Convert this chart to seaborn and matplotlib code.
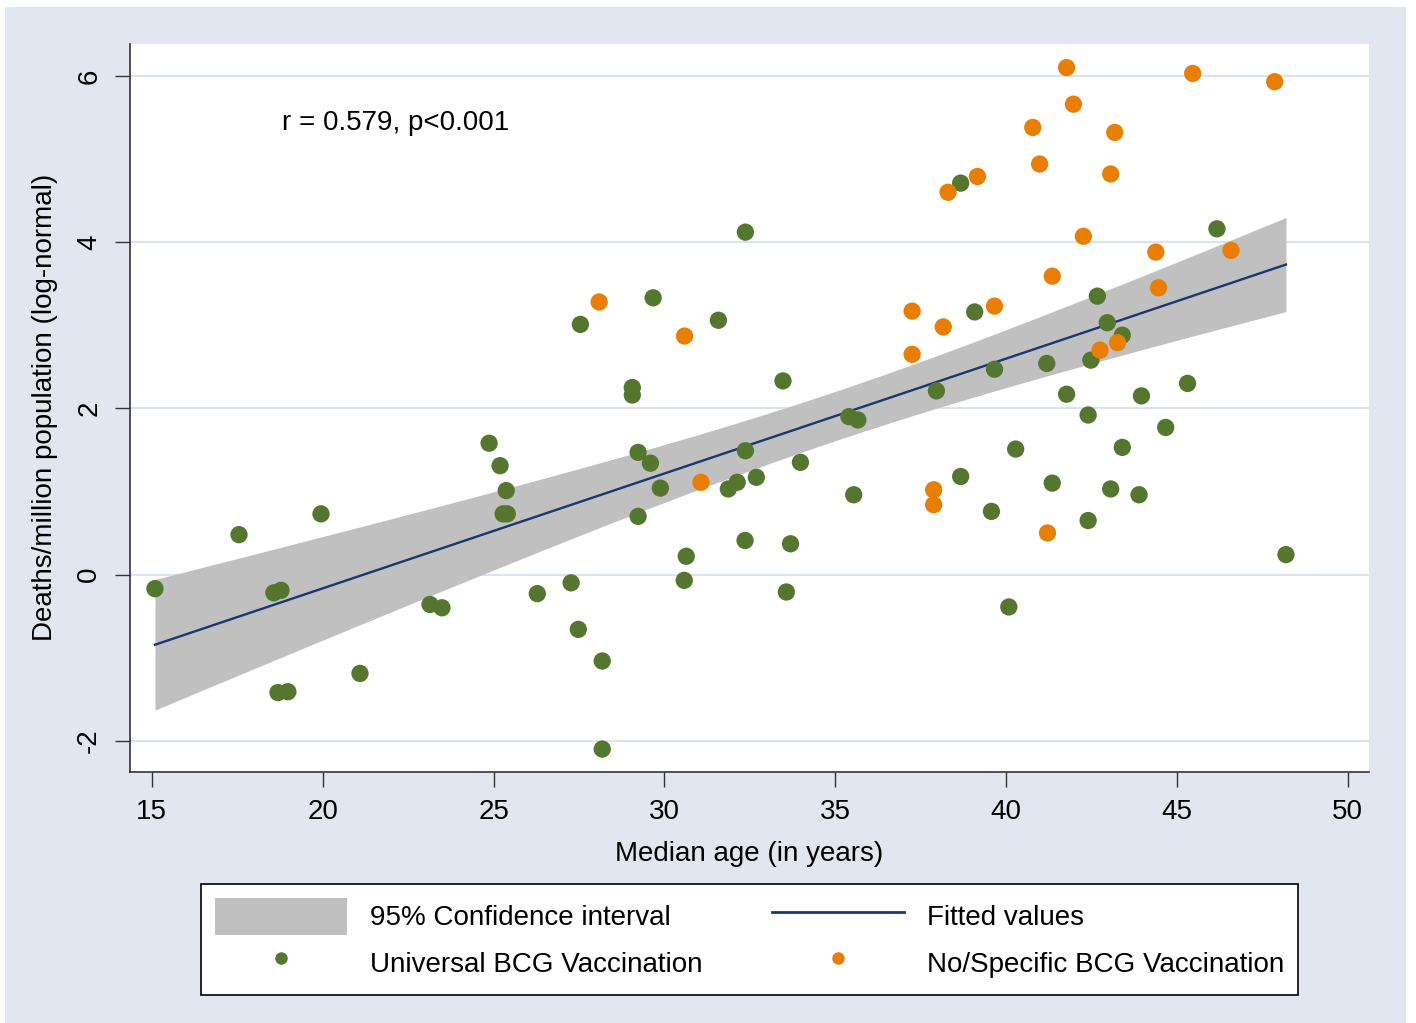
import numpy as np
import pandas as pd
import matplotlib
matplotlib.use('Agg')
import matplotlib.pyplot as plt
import seaborn as sns
from matplotlib.patches import Patch, Rectangle
from matplotlib.lines import Line2D

# Universal BCG vaccination countries (median age, log deaths/million)
univ_age = [15.09, 17.55, 18.57, 18.78, 18.69, 18.98, 19.95, 21.09, 23.14, 23.49,
            24.87, 25.19, 25.37, 25.28, 25.40, 26.28, 27.27, 27.48, 27.54, 28.18,
            28.18, 29.06, 29.06, 29.23, 29.59, 29.23, 29.67, 29.88, 30.64, 30.58,
            31.58, 31.87, 32.13, 32.37, 32.69, 32.37, 32.36, 33.47, 33.57, 33.69,
            33.98, 35.40, 35.66, 35.54, 37.96, 38.67, 38.67, 39.08, 39.66, 39.57,
            40.28, 40.08, 41.19, 41.77, 41.35, 42.40, 42.48, 42.40, 42.67, 42.96,
            43.40, 43.96, 43.40, 43.06, 43.89, 44.67, 45.31, 46.17, 48.19]
univ_death = [-0.17, 0.48, -0.22, -0.19, -1.42, -1.41, 0.73, -1.19, -0.36, -0.40,
              1.58, 1.31, 1.01, 0.73, 0.73, -0.23, -0.10, -0.66, 3.01, -1.04,
              -2.10, 2.25, 2.16, 1.47, 1.34, 0.70, 3.33, 1.04, 0.22, -0.07,
              3.06, 1.03, 1.11, 1.49, 1.17, 4.12, 0.41, 2.33, -0.21, 0.37,
              1.35, 1.90, 1.86, 0.96, 2.21, 4.71, 1.18, 3.16, 2.47, 0.76,
              1.51, -0.39, 2.54, 2.17, 1.10, 1.92, 2.58, 0.65, 3.35, 3.03,
              2.88, 2.15, 1.53, 1.03, 0.96, 1.77, 2.30, 4.16, 0.24]

# No / specific BCG vaccination countries
nobcg_age = [28.09, 30.59, 31.07, 37.25, 37.25, 37.88, 37.88, 38.16, 38.30, 39.16,
             39.66, 40.78, 40.98, 41.21, 41.35, 41.77, 41.97, 42.26, 42.75, 43.06,
             43.18, 43.26, 44.38, 44.46, 45.46, 46.58, 47.86]
nobcg_death = [3.28, 2.87, 1.11, 3.17, 2.65, 1.02, 0.84, 2.98, 4.60, 4.79,
               3.23, 5.38, 4.94, 0.50, 3.59, 6.10, 5.66, 4.07, 2.70, 4.82,
               5.32, 2.79, 3.88, 3.45, 6.03, 3.90, 5.93]

group_names = ['Universal BCG Vaccination', 'No/Specific BCG Vaccination']
x_ticks = [15, 20, 25, 30, 35, 40, 45, 50]
y_ticks = [-2, 0, 2, 4, 6]

df = pd.DataFrame({
    'age': univ_age + nobcg_age,
    'deaths': univ_death + nobcg_death,
    'group': [group_names[0]] * len(univ_age) + [group_names[1]] * len(nobcg_age),
})

green = '#55762F'
orange = '#E87E04'
navy = '#1C3670'
ci_grey = '#C0C0C0'
bluish = '#E1E6F0'
fs = 20

plt.rcParams['font.family'] = ['Liberation Sans', 'DejaVu Sans']
plt.rcParams['axes.unicode_minus'] = False

# linear fit with 95% CI of the mean
x = df['age'].values
y = df['deaths'].values
n = len(x)
b1, b0 = np.polyfit(x, y, 1)
resid = y - (b0 + b1 * x)
s = np.sqrt(np.sum(resid ** 2) / (n - 2))
sxx = np.sum((x - x.mean()) ** 2)
t_crit = 1.986
xs = np.linspace(x.min(), x.max(), 200)
fit = b0 + b1 * xs
half = t_crit * s * np.sqrt(1.0 / n + (xs - x.mean()) ** 2 / sxx)
fit_df = pd.DataFrame({'age': xs, 'fit': fit})

fig = plt.figure(figsize=(14.16, 10.23), dpi=100, facecolor='white')
fig.patches.append(Rectangle((5 / 1416, 0), 1401 / 1416, 1016 / 1023,
                             transform=fig.transFigure, facecolor=bluish,
                             edgecolor='none', zorder=-10))

ax = fig.add_axes([130 / 1416, 1 - 771.5 / 1023, 1239 / 1416, 728 / 1023])
ax.set_facecolor('white')

ax.fill_between(xs, fit - half, fit + half, color=ci_grey, linewidth=0, zorder=2)
sns.lineplot(data=fit_df, x='age', y='fit', color=navy, linewidth=1.7, ax=ax, zorder=3)
sns.scatterplot(data=df, x='age', y='deaths', hue='group', hue_order=group_names,
                palette=[green, orange], s=155, linewidth=0, legend=False,
                ax=ax, zorder=4)

ax.set_xlim(14.36, 50.62)
ax.set_ylim(-2.37, 6.39)
ax.set_xticks(x_ticks)
ax.set_yticks(y_ticks)
ax.set_xticklabels([str(v) for v in x_ticks], fontsize=fs)
ax.set_yticklabels([str(v) for v in y_ticks], fontsize=fs, rotation=90, va='center')
ax.tick_params(axis='both', direction='out', length=11, width=1.0, color='#333333')
ax.tick_params(axis='x', pad=9)
ax.tick_params(axis='y', pad=9)
ax.yaxis.grid(True, color='#DDE3EE', linewidth=1.5)
ax.xaxis.grid(False)
ax.set_axisbelow(True)
for side in ['top', 'right']:
    ax.spines[side].set_visible(False)
for side in ['left', 'bottom']:
    ax.spines[side].set_color('#333333')
    ax.spines[side].set_linewidth(1.2)

ax.set_xlabel('Median age (in years)', fontsize=fs, labelpad=11)
ax.set_ylabel('Deaths/million population (log-normal)', fontsize=fs, labelpad=13)

ax.text(18.81, 5.43, 'r = 0.579, p<0.001', fontsize=fs, va='center', ha='left')

handles = [
    Patch(facecolor=ci_grey, edgecolor='none'),
    Line2D([], [], marker='o', linestyle='none', markersize=9,
           markerfacecolor=green, markeredgewidth=0),
    Line2D([], [], color=navy, linewidth=2),
    Line2D([], [], marker='o', linestyle='none', markersize=9,
           markerfacecolor=orange, markeredgewidth=0),
]
labels = ['95% Confidence interval', group_names[0], 'Fitted values', group_names[1]]
leg = fig.legend(handles, labels, loc='center', ncol=2,
                 bbox_to_anchor=(749.5 / 1416, 1 - 939.5 / 1023),
                 fontsize=fs, frameon=True, fancybox=False, edgecolor='black',
                 facecolor='white', framealpha=1, handlelength=4.75,
                 handleheight=1.67, handletextpad=0.82, columnspacing=2.5,
                 labelspacing=0.33, borderpad=0.5)
leg.get_frame().set_linewidth(1.2)

fig.savefig('out.png', dpi=100, facecolor='white')
